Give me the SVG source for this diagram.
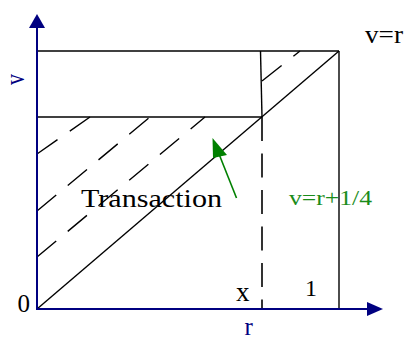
<svg xmlns="http://www.w3.org/2000/svg" width="409" height="341" viewBox="0 0 409 341">
<style>
.ln{stroke:#000;stroke-width:1.4;fill:none}
.ds{stroke:#000;stroke-width:1.4;fill:none;stroke-dasharray:25 15}
.vd{stroke:#000;stroke-width:1.6;fill:none;stroke-dasharray:24 12.5}
.ax{stroke:#000080;stroke-width:2;fill:none}
.t{font-family:"Liberation Serif","Times New Roman",serif;fill:#000}
.b{fill:#000080}
.g{fill:#1a8c1a}
</style>
<rect width="409" height="341" fill="#fff"/>
<g id="connectors">
<line class="ln" x1="37" y1="51" x2="339" y2="51"/>
<line class="ln" x1="37" y1="117" x2="262" y2="117"/>
<line class="ln" x1="339" y1="51" x2="339" y2="309"/>
<line class="ln" x1="37" y1="309" x2="339" y2="51"/>
<line class="ln" x1="260.5" y1="51" x2="262" y2="117"/>
<line class="vd" x1="262" y1="117" x2="262" y2="309"/>
<line class="ds" x1="37" y1="154" x2="90" y2="117"/>
<line class="ds" x1="37" y1="211" x2="150" y2="117"/>
<line class="ds" x1="37" y1="257" x2="205" y2="117"/>
<line class="ds" x1="262" y1="81" x2="300" y2="51"/>
<line class="ax" x1="37" y1="309" x2="37" y2="27"/>
<polygon class="b" points="37,14 29,28 45,28"/>
<line class="ax" x1="36" y1="309" x2="368" y2="309"/>
<polygon class="b" points="383,309 367,302 367,316"/>
<line x1="236.5" y1="198" x2="219" y2="154" stroke="#008000" stroke-width="1.6"/>
<polygon points="212.5,138 213,158 227,155" fill="#008000"/>
</g>
<g id="labels">
<text class="t b" font-size="27" textLength="11" lengthAdjust="spacingAndGlyphs" transform="translate(24,85) rotate(-90)">v</text>
<text class="t" x="365" y="43" font-size="26" textLength="38" lengthAdjust="spacingAndGlyphs">v=r</text>
<text class="t" x="81" y="207" font-size="25" textLength="141" lengthAdjust="spacingAndGlyphs">Transaction</text>
<text class="t g" x="289" y="204.5" font-size="21" textLength="83" lengthAdjust="spacingAndGlyphs">v=r+1/4</text>
<text class="t" x="236" y="301" font-size="27">x</text>
<text class="t" x="305" y="296" font-size="24">1</text>
<text class="t" x="17.5" y="311.5" font-size="25">0</text>
<text class="t b" x="244.5" y="335" font-size="25">r</text>
</g>
</svg>
